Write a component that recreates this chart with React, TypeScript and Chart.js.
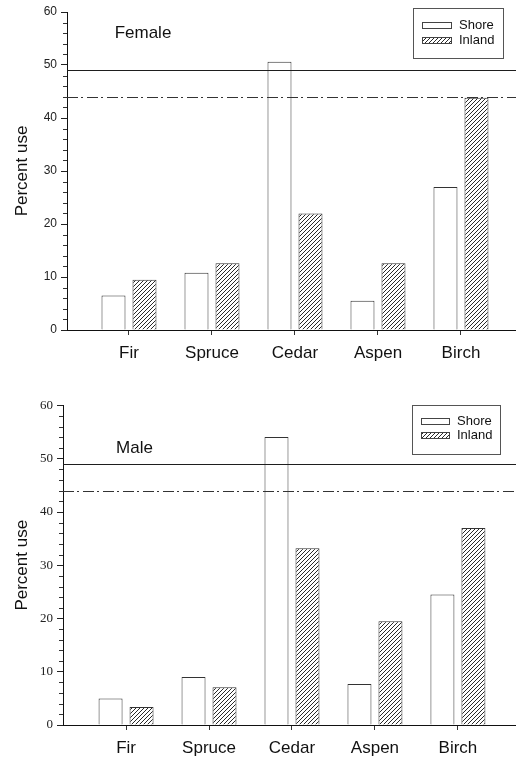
import React, { useEffect, useRef } from 'react';
import { Chart, registerables } from 'chart.js';

Chart.register(...registerables);

const categories = ['Fir', 'Spruce', 'Cedar', 'Aspen', 'Birch'];
const seriesNames = ['Shore', 'Inland'];
const femaleShore = [6.5, 10.8, 50.6, 5.5, 27.0];
const femaleInland = [9.5, 12.6, 22.0, 12.6, 43.8];
const maleShore = [5.0, 9.0, 54.1, 7.7, 24.5];
const maleInland = [3.4, 7.1, 33.2, 19.5, 37.0];
const solidLineValue = 49;
const dashedLineValue = 44;
const yMin = 0;
const yMax = 60;
const yMajorStep = 10;
const yMinorStep = 2;

const SANS = "'Liberation Sans', Arial, sans-serif";
const SERIF = "'Liberation Serif', 'Times New Roman', serif";

function makeHatch(): CanvasPattern | string {
  const c = document.createElement('canvas');
  c.width = 4;
  c.height = 4;
  const g = c.getContext('2d');
  if (!g) return '#888';
  g.fillStyle = '#ffffff';
  g.fillRect(0, 0, 4, 4);
  g.fillStyle = '#2a2a2a';
  g.fillRect(3, 0, 1, 1);
  g.fillRect(2, 1, 1, 1);
  g.fillRect(1, 2, 1, 1);
  g.fillRect(0, 3, 1, 1);
  return g.createPattern(c, 'repeat') || '#888';
}

type PanelProps = {
  shore: number[];
  inland: number[];
  label: string;
  width: number;
  height: number;
  top: number;
  axisLeft: number;
  xAxisHeight: number;
  padTop: number;
  xMin: number;
  xMax: number;
  tickFont: string;
  tickSize: number;
  labelDx: number;
  labelY: number;
  legend: { right: number; top: number; w: number; h: number; swX: number; swW: number; swH: number; row1: number; row2: number; textX: number };
};

function Panel(p: PanelProps) {
  const ref = useRef<HTMLCanvasElement | null>(null);
  useEffect(() => {
    const canvas = ref.current;
    if (!canvas) return;
    const hatch = makeHatch();
    const decor = {
      id: 'decor',
      afterDatasetsDraw(chart: any) {
        const { ctx, chartArea, scales } = chart;
        const y = scales.y;
        ctx.save();
        ctx.strokeStyle = '#1e1e1e';
        ctx.lineWidth = 1.2;
        const ys = Math.round(y.getPixelForValue(solidLineValue)) + 0.5;
        ctx.beginPath();
        ctx.moveTo(chartArea.left, ys);
        ctx.lineTo(chartArea.right, ys);
        ctx.stroke();
        ctx.strokeStyle = '#333';
        ctx.setLineDash([11, 3, 2, 4]);
        const yd = Math.round(y.getPixelForValue(dashedLineValue)) + 0.5;
        ctx.beginPath();
        ctx.moveTo(chartArea.left, yd);
        ctx.lineTo(chartArea.right, yd);
        ctx.stroke();
        ctx.restore();
      },
      afterDraw(chart: any) {
        const { ctx, chartArea, scales } = chart;
        const y = scales.y;
        ctx.save();
        ctx.strokeStyle = '#333';
        ctx.lineWidth = 1;
        for (let v = yMin; v <= yMax; v += yMinorStep) {
          if (v % yMajorStep === 0) continue;
          const py = Math.round(y.getPixelForValue(v)) + 0.5;
          ctx.beginPath();
          ctx.moveTo(chartArea.left - 4, py);
          ctx.lineTo(chartArea.left, py);
          ctx.stroke();
        }
        ctx.fillStyle = '#111';
        ctx.font = `17px ${SANS}`;
        ctx.textAlign = 'center';
        ctx.textBaseline = 'middle';
        ctx.fillText(p.label, chartArea.left + p.labelDx, p.labelY);
        const L = p.legend;
        const bx = chartArea.right - L.right - L.w;
        ctx.strokeStyle = '#555';
        ctx.lineWidth = 1;
        ctx.strokeRect(Math.round(bx) + 0.5, L.top + 0.5, L.w, L.h);
        const sx = Math.round(bx + L.swX) + 0.5;
        ctx.fillStyle = '#fff';
        ctx.fillRect(sx, L.row1 - L.swH / 2, L.swW, L.swH);
        ctx.strokeStyle = '#444';
        ctx.strokeRect(sx, Math.round(L.row1 - L.swH / 2) + 0.5, L.swW, L.swH);
        ctx.fillStyle = hatch as any;
        ctx.fillRect(sx, L.row2 - L.swH / 2, L.swW, L.swH);
        ctx.strokeRect(sx, Math.round(L.row2 - L.swH / 2) + 0.5, L.swW, L.swH);
        ctx.fillStyle = '#111';
        ctx.font = `13px ${SANS}`;
        ctx.textAlign = 'left';
        ctx.fillText(seriesNames[0], bx + L.textX, L.row1);
        ctx.fillText(seriesNames[1], bx + L.textX, L.row2);
        ctx.restore();
      },
    };
    const chart = new Chart(canvas, {
      type: 'bar',
      data: {
        datasets: [
          {
            label: seriesNames[0],
            data: categories.map((_, i) => ({ x: i + 1, y: p.shore[i] })),
            backgroundColor: '#ffffff',
            borderColor: '#333',
            borderWidth: 1,
            categoryPercentage: 0.747,
            barPercentage: 0.774,
          },
          {
            label: seriesNames[1],
            data: categories.map((_, i) => ({ x: i + 1, y: p.inland[i] })),
            backgroundColor: hatch as any,
            borderColor: '#333',
            borderWidth: 1,
            categoryPercentage: 0.747,
            barPercentage: 0.774,
          },
        ],
      },
      options: {
        responsive: false,
        animation: false,
        events: [],
        layout: { padding: { top: p.padTop, left: 0, right: 0, bottom: 0 } },
        plugins: { legend: { display: false }, tooltip: { enabled: false } },
        scales: {
          x: {
            type: 'linear',
            offset: false,
            min: p.xMin,
            max: p.xMax,
            afterBuildTicks: (s: any) => {
              s.ticks = categories.map((_, i) => ({ value: i + 1 }));
            },
            afterFit: (s: any) => {
              s.height = p.xAxisHeight;
            },
            ticks: {
              callback: (v: any) => categories[Number(v) - 1] ?? '',
              font: { family: SANS, size: 17 },
              color: '#111',
              padding: 8,
              maxRotation: 0,
              autoSkip: false,
            },
            grid: { offset: false, drawOnChartArea: false, drawTicks: true, tickLength: 5, tickColor: '#333', color: '#333' },
            border: { display: true, color: '#111', width: 1 },
          },
          y: {
            type: 'linear',
            min: yMin,
            max: yMax,
            afterFit: (s: any) => {
              s.width = p.axisLeft;
            },
            ticks: {
              stepSize: yMajorStep,
              font: { family: p.tickFont, size: p.tickSize },
              color: '#222',
              padding: 4,
            },
            grid: { drawOnChartArea: false, drawTicks: true, tickLength: 6, tickColor: '#222', color: '#222' },
            border: { display: true, color: '#111', width: 1 },
            title: {
              display: true,
              text: 'Percent use',
              font: { family: SANS, size: 17 },
              color: '#111',
              padding: { top: 12, bottom: 0 },
            },
          },
        },
      },
      plugins: [decor],
    } as any);
    return () => chart.destroy();
  }, []);
  return (
    <canvas
      ref={ref}
      width={p.width}
      height={p.height}
      style={{ position: 'absolute', left: 0, top: p.top, width: p.width, height: p.height, display: 'block' }}
    />
  );
}

export default function App() {
  return (
    <div style={{ position: 'absolute', left: 0, top: 0, width: 516, height: 761, background: '#fff' }}>
      <Panel
        shore={femaleShore}
        inland={femaleInland}
        label="Female"
        width={516}
        height={380}
        top={0}
        axisLeft={67}
        xAxisHeight={50}
        padTop={12}
        xMin={0.253}
        xMax={5.663}
        tickFont={SANS}
        tickSize={12}
        labelDx={76}
        labelY={33}
        legend={{ right: 13, top: 8, w: 90, h: 50, swX: 9, swW: 29, swH: 6, row1: 25, row2: 40, textX: 46 }}
      />
      <Panel
        shore={maleShore}
        inland={maleInland}
        label="Male"
        width={516}
        height={381}
        top={380}
        axisLeft={63}
        xAxisHeight={36}
        padTop={25.5}
        xMin={0.24}
        xMax={5.7}
        tickFont={SERIF}
        tickSize={13}
        labelDx={71.5}
        labelY={68}
        legend={{ right: 16, top: 25, w: 88, h: 49, swX: 9, swW: 28, swH: 6, row1: 41, row2: 55, textX: 45 }}
      />
    </div>
  );
}
